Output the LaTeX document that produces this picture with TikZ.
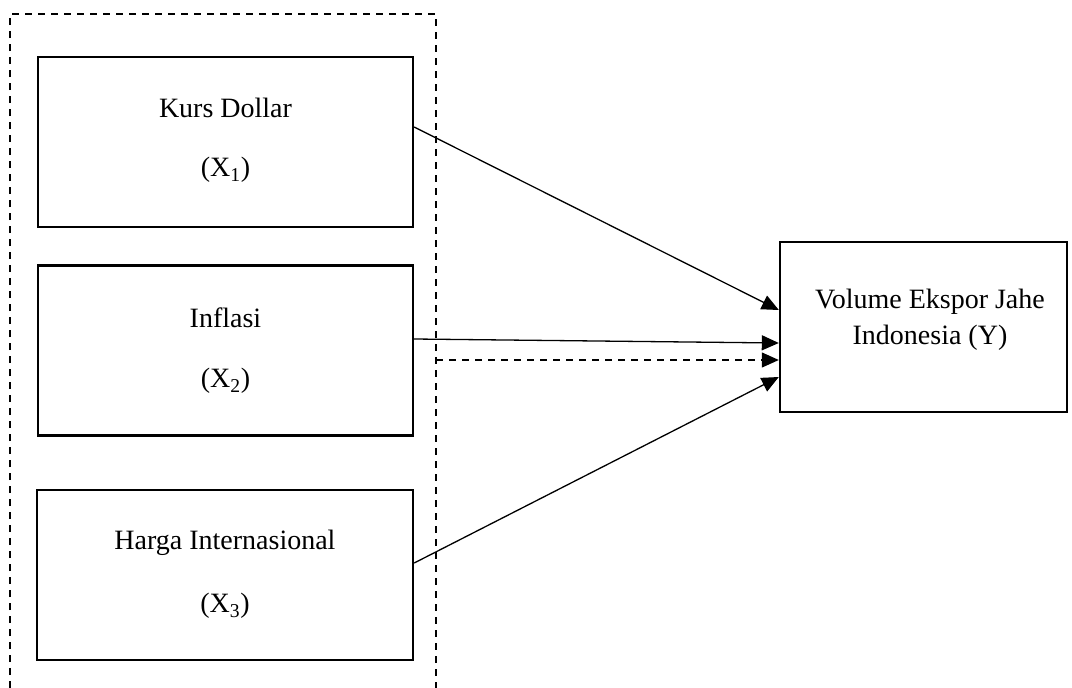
\documentclass[tikz,border=0pt]{standalone}
\usepackage{fontspec}
\setmainfont{Liberation Serif}
\usetikzlibrary{arrows.meta}
\begin{document}
\begin{tikzpicture}[x=1pt,y=-1pt,
  box/.style={draw,line width=2.4pt,inner sep=0pt},
  lbl/.style={font=\fontsize{28}{34}\selectfont,inner sep=0pt,align=center},
  arr/.style={line width=1.3pt,-{Triangle[length=17pt,width=15pt]}},
  dsh/.style={line width=1.8pt,dash pattern=on 7pt off 6pt}]
\useasboundingbox (0,0) rectangle (1072,688);
% dashed frame
\coordinate (dl) at (10,688);
\coordinate (dtl) at (10,14);
\coordinate (dtr) at (436,14);
\coordinate (dr) at (436,688);
\draw[dsh] (dl) -- (dtl) -- (dtr) -- (dr);
% boxes
\node[box,minimum width=375pt,minimum height=170pt] (x1) at (225.5,142) {};
\node[box,minimum width=375pt,minimum height=170pt] (x2) at (225.5,350.5) {};
\node[box,minimum width=376pt,minimum height=170pt] (x3) at (225,575) {};
\node[box,minimum width=287pt,minimum height=170pt] (y) at (923.5,327) {};
% labels
\node[lbl] (t1a) at (225.5,108) {Kurs Dollar};
\node[lbl] (t1b) at (225.5,170) {(X\textsubscript{1})};
\node[lbl] (t2a) at (225.5,318) {Inflasi};
\node[lbl] (t2b) at (225.5,381) {(X\textsubscript{2})};
\node[lbl] (t3a) at (225,543) {Harga Internasional};
\node[lbl] (t3b) at (225,606) {(X\textsubscript{3})};
\node[lbl] (ty) at (930,320) {Volume Ekspor Jahe\\[2pt]Indonesia (Y)};
% arrows
\coordinate (s1) at (x1.east |- 0,127);
\coordinate (e1) at (y.west |- 0,310);
\coordinate (s2) at (x2.east |- 0,339);
\coordinate (e2) at (y.west |- 0,343);
\coordinate (s3) at (x3.east |- 0,563);
\coordinate (e3) at (y.west |- 0,377);
\coordinate (sd) at (436,360);
\coordinate (ed) at (y.west |- 0,360);
\draw[arr] (s1) -- (e1);
\draw[arr] (s2) -- (e2);
\draw[arr] (s3) -- (e3);
\draw[dsh] (sd) -- ([xshift=-16pt]ed);
\draw[arr] ([xshift=-17pt]ed) -- (ed);
\end{tikzpicture}
\end{document}
